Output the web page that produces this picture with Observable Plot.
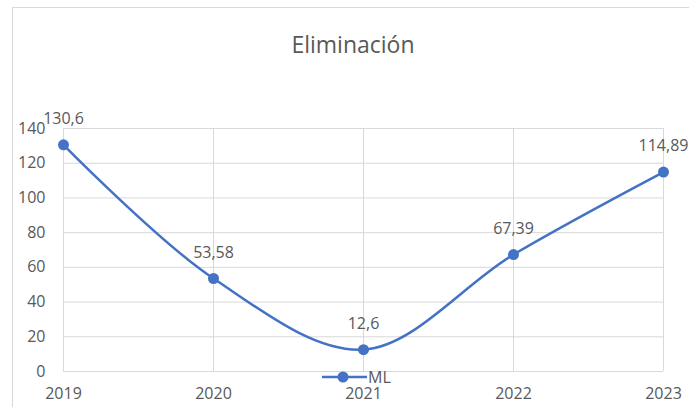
<!DOCTYPE html>
<html><head><meta charset="utf-8">
<script src="https://cdn.jsdelivr.net/npm/d3@7"></script>
<script src="https://cdn.jsdelivr.net/npm/@observablehq/plot@0.6"></script>
<style>
html,body{margin:0;padding:0;background:#fff;}
#wrap{position:relative;width:689px;height:407px;overflow:hidden;font-family:"Open Sans",sans-serif;}
#frame{position:absolute;left:12px;top:7px;width:700px;height:420px;border:1px solid #d9d9d9;box-sizing:border-box;}
#title{position:absolute;left:0;width:706px;top:28px;text-align:center;font-size:23px;color:#595959;}
#legend{position:absolute;left:322px;top:366px;font-size:16px;color:#595959;display:flex;align-items:center;}
#chart{position:absolute;left:0;top:0;}
</style></head>
<body><div id="wrap"><div id="frame"></div><div id="chart"></div><div id="title">Eliminación</div>
<div id="legend"><svg width="45" height="14"><line x1="0" y1="7" x2="45" y2="7" stroke="#4472C4" stroke-width="2.5"/><circle cx="21" cy="7" r="5.5" fill="#4472C4"/></svg><span style="margin-left:1px">ML</span></div></div>
<script>
const years = ["2019","2020","2021","2022","2023"];
const values = [130.6, 53.58, 12.6, 67.39, 114.89];
const labels = ["130,6","53,58","12,6","67,39","114,89"];
const yTicks = [0,20,40,60,80,100,120,140];

const data = years.map((y,i)=>({year:y, value:values[i], label:labels[i]}));
const color = "#4472C4";
const chart = Plot.plot({
  width:689, height:407,
  marginLeft:63, marginRight:26, marginTop:128, marginBottom:36,
  style:{fontSize:"16px", fontFamily:"'Open Sans',sans-serif", color:"#595959", background:"transparent", overflow:"visible"},
  x:{type:"point", domain:years, padding:0},
  y:{domain:[0,140]},
  marks:[
    Plot.gridY(yTicks,{stroke:"#d9d9d9", strokeOpacity:1}),
    Plot.gridX(years,{stroke:"#d9d9d9", strokeOpacity:1}),
    Plot.axisY(yTicks,{tickSize:0, tickPadding:18, label:null, fill:"#595959", fontSize:16}),
    Plot.axisX({tickSize:0, tickPadding:16, label:null, fill:"#595959", fontSize:16}),
    Plot.line(data,{x:"year", y:"value", stroke:color, strokeWidth:2.5, curve:"catmull-rom"}),
    Plot.dot(data,{x:"year", y:"value", fill:color, r:5.5}),
    Plot.text(data,{x:"year", y:"value", text:"label", dy:-26, fill:"#595959", fontSize:16})
  ]
});
document.getElementById("chart").appendChild(chart);
</script></body></html>
